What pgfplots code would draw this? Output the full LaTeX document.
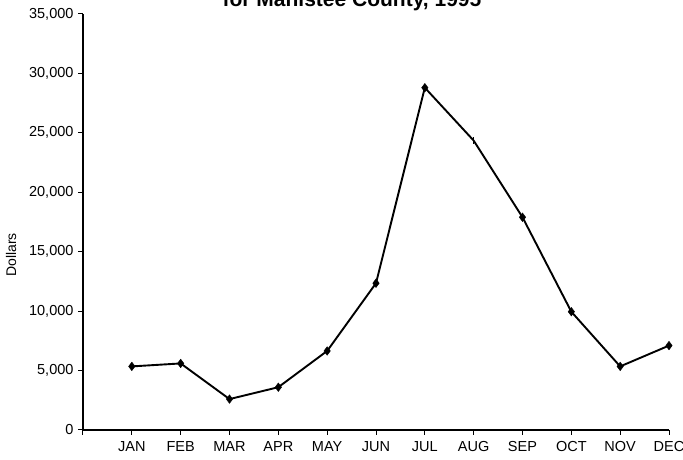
\documentclass[border=0pt]{standalone}
\usepackage{pgfplots}
\pgfplotsset{compat=1.18}
\usepackage{fontspec}
\setmainfont{Liberation Sans}
\begin{document}
\begin{tikzpicture}[x=1pt,y=1pt]
\useasboundingbox (0,0) rectangle (683,460);
\node[font=\bfseries\fontsize{21}{24}\selectfont, anchor=base] at (352,453) {for Manistee County, 1995};
\node[rotate=90, font=\fontsize{14}{16}\selectfont] at (11,205) {Dollars};
\begin{axis}[
  at={(83pt,30pt)}, anchor=south west,
  scale only axis, width=586pt, height=416pt,
  xmin=0, xmax=12, ymin=0, ymax=35000,
  axis lines=left, axis line style={-, line width=1.6pt},
  xtick={0,...,12}, xticklabels={,JAN,FEB,MAR,APR,MAY,JUN,JUL,AUG,SEP,OCT,NOV,DEC},
  ytick={0,5000,...,35000},
  tick align=outside, major tick length=5pt,
  tick style={black, line width=1pt},
  /pgf/number format/assume math mode=true,
  scaled y ticks=false,
  yticklabel={\pgfmathprintnumber[fixed,1000 sep={,}]{\tick}},
  tick label style={font=\fontsize{14.5}{16}\selectfont},
  xticklabel style={yshift=-3pt},
  yticklabel style={xshift=-1pt},
  clip=false,
]
\addplot[black, line width=1.9pt] coordinates {
(1,5350) (2,5600) (3,2600) (4,3600) (5,6650) (6,12350)
(7,28800) (8,24350) (9,17900) (10,9950) (11,5350) (12,7100)};
\addplot[only marks, mark=diamond*, mark size=4.3pt, black] coordinates {
(1,5350) (2,5600) (3,2600) (4,3600) (5,6650) (6,12350)
(7,28800) (9,17900) (10,9950) (11,5350) (12,7100)};
\addplot[only marks, mark=|, mark size=3.5pt, black, line width=1.5pt] coordinates {(8,24350)};
\end{axis}
\end{tikzpicture}
\end{document}
